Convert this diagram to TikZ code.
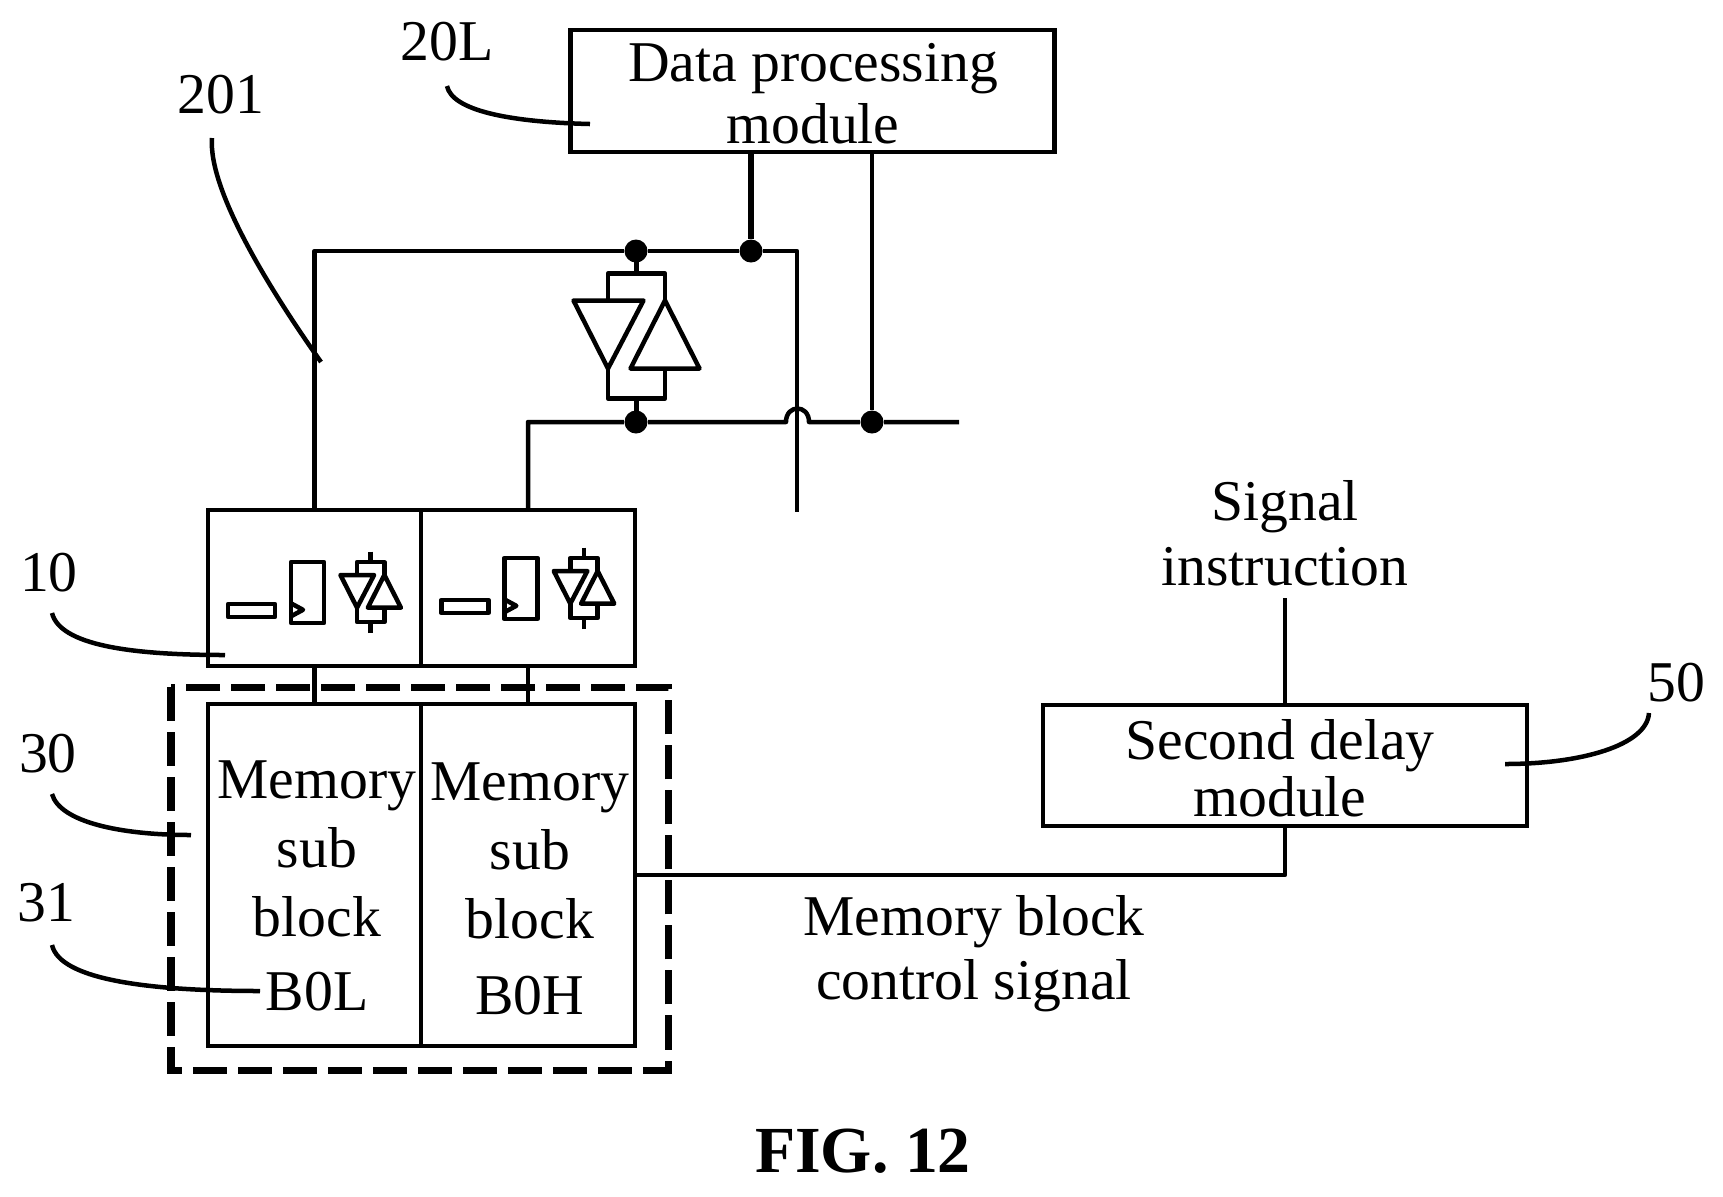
\documentclass[tikz,border=0pt]{standalone}
\usepackage{fontspec}
\setmainfont{Liberation Serif}
\tikzset{
    wire/.style={line width=0.045cm, line join=round},
    thickwire/.style={line width=0.06cm},
    box/.style={draw, line width=0.045cm, rectangle, inner sep=0pt, outer sep=0pt},
    jdot/.style={circle, fill, inner sep=0pt, minimum size=0.23cm},
    txt/.style={font=\fontsize{16.4}{19.6}\selectfont, align=center, inner sep=0pt},
    txttwo/.style={font=\fontsize{16.4}{17.6}\selectfont, align=center, inner sep=0pt},
    bufpair/.pic={
        \draw[wire] (0,-85) -- (0,-63) (-28.5,-36) -- (-28.5,-63) -- (28.5,-63) -- (28.5,-36);
        \draw[wire] (0,85) -- (0,62) (-28.5,32) -- (-28.5,62) -- (28.5,62) -- (28.5,32);
        \draw[wire] (-63,-36) -- (7,-36) -- (-28.5,32) -- cycle;
        \draw[wire] (28.5,-36) -- (-6,32) -- (63,32) -- cycle;
    },
    cellicon/.pic={
        \draw[wire] (-142.7,11.7) rectangle (-95.7,24.7);
        \draw[wire] (-79.7,-30.3) rectangle (-46.7,30.7);
        \draw[wire] (-79.7,11) -- (-67.7,17.5) -- (-79.7,24);
        \pic[scale=0.48] {bufpair};
    }
}
\begin{document}
\begin{tikzpicture}[x=0.01cm,y=-0.01cm]
    \useasboundingbox (0,0) rectangle (1723,1196);
    % boxes
    \node[box, minimum width=4.84cm, minimum height=1.22cm] (data) at (812.5,91) {};
    \node[box, minimum width=2.13cm, minimum height=1.56cm] (cellL) at (314.5,588) {};
    \node[box, minimum width=2.14cm, minimum height=1.56cm] (cellH) at (528,588) {};
    \node[box, minimum width=2.13cm, minimum height=3.42cm] (memL) at (314.5,875) {};
    \node[box, minimum width=2.14cm, minimum height=3.42cm] (memH) at (528,875) {};
    \node[box, minimum width=4.84cm, minimum height=1.21cm] (delay) at (1285,765.5) {};
    \draw[line width=0.07cm, dash pattern=on 0.34cm off 0.11cm] (171,687) rectangle (668,1070);
    % text
    \node[txttwo] (datatxt) at (813,94) {Data processing\\module};
    \node[txt] (memLtxt) at (317,886) {Memory\\sub\\block\\[0.05cm]B0L};
    \node[txt] (memHtxt) at (530,889) {Memory\\sub\\block\\[0.07cm]B0H};
    \node[txttwo] (delaytxt) at (1280,768.5) {Second delay\\[-0.05cm]module};
    \node[txt] (signal) at (1285,533) {Signal\\[-0.04cm]instruction};
    \node[txt] (ctrl) at (974,954) {Memory block\\[-0.05cm]control signal};
    \node[txt] (lbl20L) at (447,42) {20L};
    \node[txt] (lbl201) at (221,95) {201};
    \node[txt] (lbl10) at (49,573) {10};
    \node[txt] (lbl30) at (48,754) {30};
    \node[txt] (lbl31) at (46,903) {31};
    \node[txt] (lbl50) at (1676,683) {50};
    \node[inner sep=0pt, font=\fontsize{18.7}{20}\selectfont\bfseries] (fig) at (863,1151) {FIG. 12};
    % junctions
    \node[jdot] (topA) at (636,251) {};
    \node[jdot] (topB) at (751,251) {};
    \node[jdot] (lowA) at (636,422) {};
    \node[jdot] (lowB) at (872,422) {};
    \coordinate (topC) at (797,251);
    \coordinate (busend) at (797,512);
    \coordinate (lowend) at (959,422);
    \coordinate (hopA) at (786,422);
    \coordinate (hopB) at (809,422);
    \coordinate (instr) at (1285,598);
    \coordinate (ctrlin) at (635,875);
    % buffers
    \pic at (636.5,336.5) {bufpair};
    \pic at (370.7,592.3) {cellicon};
    \pic at (584,588.3) {cellicon};
    % wires
    \draw[wire] (cellL.north) |- (topA) -- (topB) -- (topC) -- (busend);
    \draw[wire] (cellH.north) |- (lowA) -- (hopA) .. controls (786,404) and (809,404) .. (hopB) -- (lowB) -- (lowend);
    \draw[thickwire] (topB |- data.south) -- (topB);
    \draw[wire] (lowB |- data.south) -- (lowB);
    \draw[wire] (cellL.south) -- (memL.north);
    \draw[wire] (cellH.south) -- (memH.north);
    \draw[wire] (instr) -- (delay.north);
    \draw[wire] (delay.south) |- (ctrlin);
    % leaders
    \coordinate (a20L) at (447,86);
    \coordinate (b20L) at (590,124);
    \coordinate (a201) at (212,138);
    \coordinate (b201) at (321,362);
    \coordinate (a10) at (52,613);
    \coordinate (b10) at (225,655);
    \coordinate (a30) at (52,794);
    \coordinate (b30) at (191,835);
    \coordinate (a31) at (52,945);
    \coordinate (b31) at (260,991);
    \coordinate (a50) at (1649,713);
    \coordinate (b50) at (1505,764);
    \draw[wire] (a20L) .. controls (452,110) and (507,122) .. (b20L);
    \draw[wire] (a201) .. controls (208,190) and (270,290) .. (b201);
    \draw[wire] (a10) .. controls (60,645) and (130,655) .. (b10);
    \draw[wire] (a30) .. controls (60,822) and (120,835) .. (b30);
    \draw[wire] (a31) .. controls (60,980) and (150,991) .. (b31);
    \draw[wire] (a50) .. controls (1647,745) and (1582,764) .. (b50);
\end{tikzpicture}
\end{document}
